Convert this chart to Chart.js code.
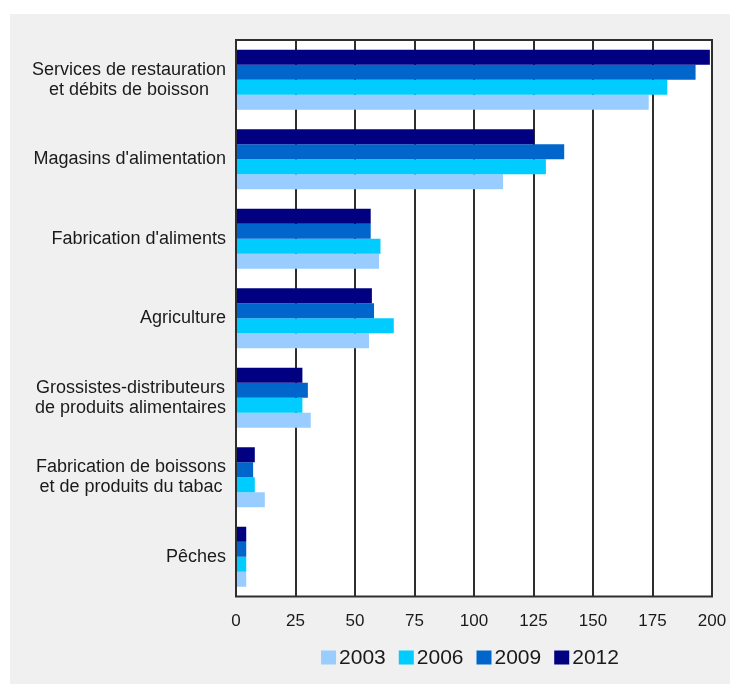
<!DOCTYPE html>
<html>
<head>
<meta charset="utf-8">
<script src="https://cdn.jsdelivr.net/npm/chart.js@4"></script>
<style>
    body { margin: 0; background: #fff; }
    #panel { position: absolute; left: 10px; top: 14px; width: 720px; height: 670px; background: #f0f0f0; }
</style>
</head>
<body>
<div id="panel"><canvas id="chart" width="720" height="670"></canvas></div>
<script>
const categories = [
    ["Services de restauration", "et débits de boisson"],
    "Magasins d'alimentation",
    "Fabrication d'aliments",
    "Agriculture",
    ["Grossistes-distributeurs", "de produits alimentaires"],
    ["Fabrication de boissons", "et de produits du tabac"],
    "Pêches"
];

const years = ["2003", "2006", "2009", "2012"];
const values2003 = [173.4, 112.2, 60.1, 55.9, 31.4, 12.1, 4.3];
const values2006 = [181.2, 130.2, 60.7, 66.3, 27.9, 7.9, 4.3];
const values2009 = [193.1, 137.9, 56.6, 58.0, 30.2, 7.2, 4.3];
const values2012 = [199.1, 125.3, 56.6, 57.1, 27.9, 7.9, 4.3];
const xTicks = [0, 25, 50, 75, 100, 125, 150, 175, 200];

const colors = ["#99ccff", "#00ccff", "#0066cc", "#000080"];
const seriesValues = [values2003, values2006, values2009, values2012];

const FONT = '"Liberation Sans", Arial, sans-serif';
const TEXT = "#1a1a1a";
const LINE = "#2e2e2e";

// newest year on top of each group, so datasets go 2012 -> 2003
const datasets = years.map((y, i) => ({
    label: y,
    data: seriesValues[i],
    backgroundColor: colors[i],
    borderWidth: 0
})).reverse();

// white plot area with a dark frame
const plotFrame = {
    id: "plotFrame",
    beforeDraw(chart) {
        const a = chart.chartArea;
        const ctx = chart.ctx;
        ctx.save();
        ctx.fillStyle = "#ffffff";
        ctx.fillRect(a.left, a.top, a.right - a.left, a.bottom - a.top);
        ctx.restore();
    },
    beforeDatasetsDraw(chart) {
        const a = chart.chartArea;
        const ctx = chart.ctx;
        ctx.save();
        ctx.strokeStyle = LINE;
        ctx.lineWidth = 2;
        ctx.strokeRect(a.left, a.top, a.right - a.left, a.bottom - a.top);
        ctx.restore();
    }
};

// category names: each block right aligned, its lines centred on each other
const categoryLabels = {
    id: "categoryLabels",
    afterDraw(chart) {
        const scale = chart.scales.y;
        const ctx = chart.ctx;
        const right = chart.chartArea.left - 10;
        const lineH = 20;
        ctx.save();
        ctx.font = "18px " + FONT;
        ctx.fillStyle = TEXT;
        ctx.textAlign = "center";
        ctx.textBaseline = "middle";
        chart.data.labels.forEach((label, i) => {
            const lines = Array.isArray(label) ? label : [label];
            const w = Math.max(...lines.map(l => ctx.measureText(l).width));
            const cx = right - w / 2;
            const yc = scale.getPixelForTick(i);
            lines.forEach((l, j) => {
                ctx.fillText(l, cx, yc + (j - (lines.length - 1) / 2) * lineH);
            });
        });
        ctx.restore();
    }
};

// legend in year order under the plot
const yearLegend = {
    id: "yearLegend",
    afterDraw(chart) {
        const ctx = chart.ctx;
        const a = chart.chartArea;
        const box = 15, boxH = 14, gap = 3, space = 13;
        ctx.save();
        ctx.font = "21px " + FONT;
        const items = chart.data.datasets.slice().reverse();
        const widths = items.map(d => box + gap + ctx.measureText(d.label).width);
        const total = widths.reduce((s, w) => s + w, 0) + space * (items.length - 1);
        let x = (a.left + a.right) / 2 - 4 - total / 2;
        const base = 649.5;
        items.forEach((d, i) => {
            ctx.fillStyle = d.backgroundColor;
            ctx.fillRect(x, base - boxH + 1, box, boxH);
            ctx.fillStyle = TEXT;
            ctx.textBaseline = "alphabetic";
            ctx.fillText(d.label, x + box + gap, base);
            x += widths[i] + space;
        });
        ctx.restore();
    }
};

new Chart(document.getElementById("chart"), {
    type: "bar",
    data: {
        labels: categories,
        datasets: datasets
    },
    options: {
        indexAxis: "y",
        responsive: false,
        animation: false,
        categoryPercentage: 0.756,
        barPercentage: 1.0,
        layout: {
            padding: { top: 26, right: 18, bottom: 47.5, left: 0 }
        },
        scales: {
            x: {
                min: 0,
                max: 200,
                afterFit(scale) {
                    scale.height = 40;
                    // the last label may hang past the frame, as in the panel margin
                    scale.paddingLeft = 0;
                    scale.paddingRight = 0;
                },
                afterBuildTicks(scale) { scale.ticks = xTicks.map(v => ({ value: v })); },
                grid: { color: LINE, lineWidth: 2, drawTicks: false },
                border: { display: false },
                ticks: {
                    padding: 15,
                    color: TEXT,
                    font: { family: FONT, size: 17 }
                }
            },
            y: {
                afterFit(scale) { scale.width = 226; },
                grid: { display: false },
                border: { display: false },
                ticks: { display: false }
            }
        },
        plugins: {
            legend: { display: false },
            tooltip: { enabled: false }
        }
    },
    plugins: [plotFrame, categoryLabels, yearLegend]
});
</script>
</body>
</html>
